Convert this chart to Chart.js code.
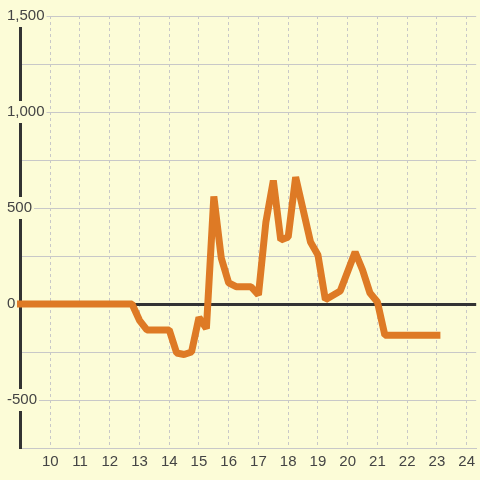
<!DOCTYPE html>
<html>
<head>
<meta charset="utf-8">
<script src="https://cdn.jsdelivr.net/npm/chart.js@4/dist/chart.umd.min.js"></script>
<style>
  html, body { margin: 0; padding: 0; background: #FCFCD7; }
  #wrap { width: 480px; height: 480px; position: relative; }
</style>
</head>
<body>
<div id="wrap"><canvas id="c" width="480" height="480"></canvas></div>
<script>
// Hour of day (x) and value (y)
const hours = [9, 12.75, 13, 13.25, 14, 14.25, 14.5, 14.75, 15, 15.25, 15.5, 15.75, 16, 16.25, 16.75, 17, 17.25, 17.5, 17.75, 18, 18.25, 18.75, 19, 19.25, 19.75, 20.25, 20.5, 20.75, 21, 21.25, 23];
const values = [0, 0, -85, -135, -135, -255, -263, -250, -70, -128, 560, 240, 110, 90, 90, 47, 427, 643, 333, 349, 661, 323, 255, 22, 68, 271, 177, 57, 10, -163, -163];
const yLabelValues = [1500, 1000, 500, 0, -500];
const xTickValues = [10, 11, 12, 13, 14, 15, 16, 17, 18, 19, 20, 21, 22, 23, 24];

const BG = '#FCFCD7';
const TEXT = '#444444';
const GRID = '#c8c8c8';
const AXIS = '#333333';
const LINE = '#DE7A25';

const points = hours.map((h, i) => ({ x: h, y: values[i] }));

new Chart(document.getElementById('c'), {
  type: 'line',
  data: {
    datasets: [{
      data: points,
      borderColor: LINE,
      borderWidth: 7,
      borderCapStyle: 'square',
      borderJoinStyle: 'bevel',
      pointRadius: 0,
      tension: 0,
      fill: false,
      clip: { left: 4, top: 4, right: 4, bottom: 4 }
    }]
  },
  options: {
    responsive: false,
    animation: false,
    locale: 'en-US',
    layout: { padding: { left: 7, top: 16, right: 0, bottom: 0 } },
    plugins: { legend: { display: false }, tooltip: { enabled: false } },
    scales: {
      x: {
        type: 'linear',
        min: 9,
        max: 24.32,
        afterBuildTicks: (s) => { s.ticks = xTickValues.map(v => ({ value: v })); },
        afterFit: (s) => { s.height = 32; },
        ticks: {
          font: { family: 'Liberation Sans', size: 15 },
          color: TEXT,
          padding: 5,
          maxRotation: 0,
          autoSkip: false,
          callback: (v) => String(v)
        },
        grid: {
          color: GRID,
          lineWidth: 1,
          drawTicks: false,
          tickLength: 0
        },
        border: { display: true, color: GRID, width: 1, dash: [3, 3] }
      },
      y: {
        type: 'linear',
        min: -750,
        max: 1500,
        afterFit: (s) => { s.width = 13.5; },
        ticks: {
          stepSize: 250,
          font: { family: 'Liberation Sans', size: 15 },
          color: TEXT,
          mirror: true,
          crossAlign: 'near',
          padding: -13.5,
          callback: (v) => yLabelValues.includes(v) ? v.toLocaleString('en-US') : '',
          showLabelBackdrop: true,
          backdropColor: (ctx) => (ctx.tick && yLabelValues.includes(ctx.tick.value)) ? BG : 'rgba(0,0,0,0)',
          backdropPadding: 2
        },
        grid: {
          color: (ctx) => (ctx.tick && ctx.tick.value === 0) ? AXIS : GRID,
          lineWidth: (ctx) => (ctx.tick && ctx.tick.value === 0) ? 3 : 1,
          drawTicks: false,
          tickLength: 0
        },
        border: { display: true, color: AXIS, width: 3 }
      }
    }
  }
});
</script>
</body>
</html>
